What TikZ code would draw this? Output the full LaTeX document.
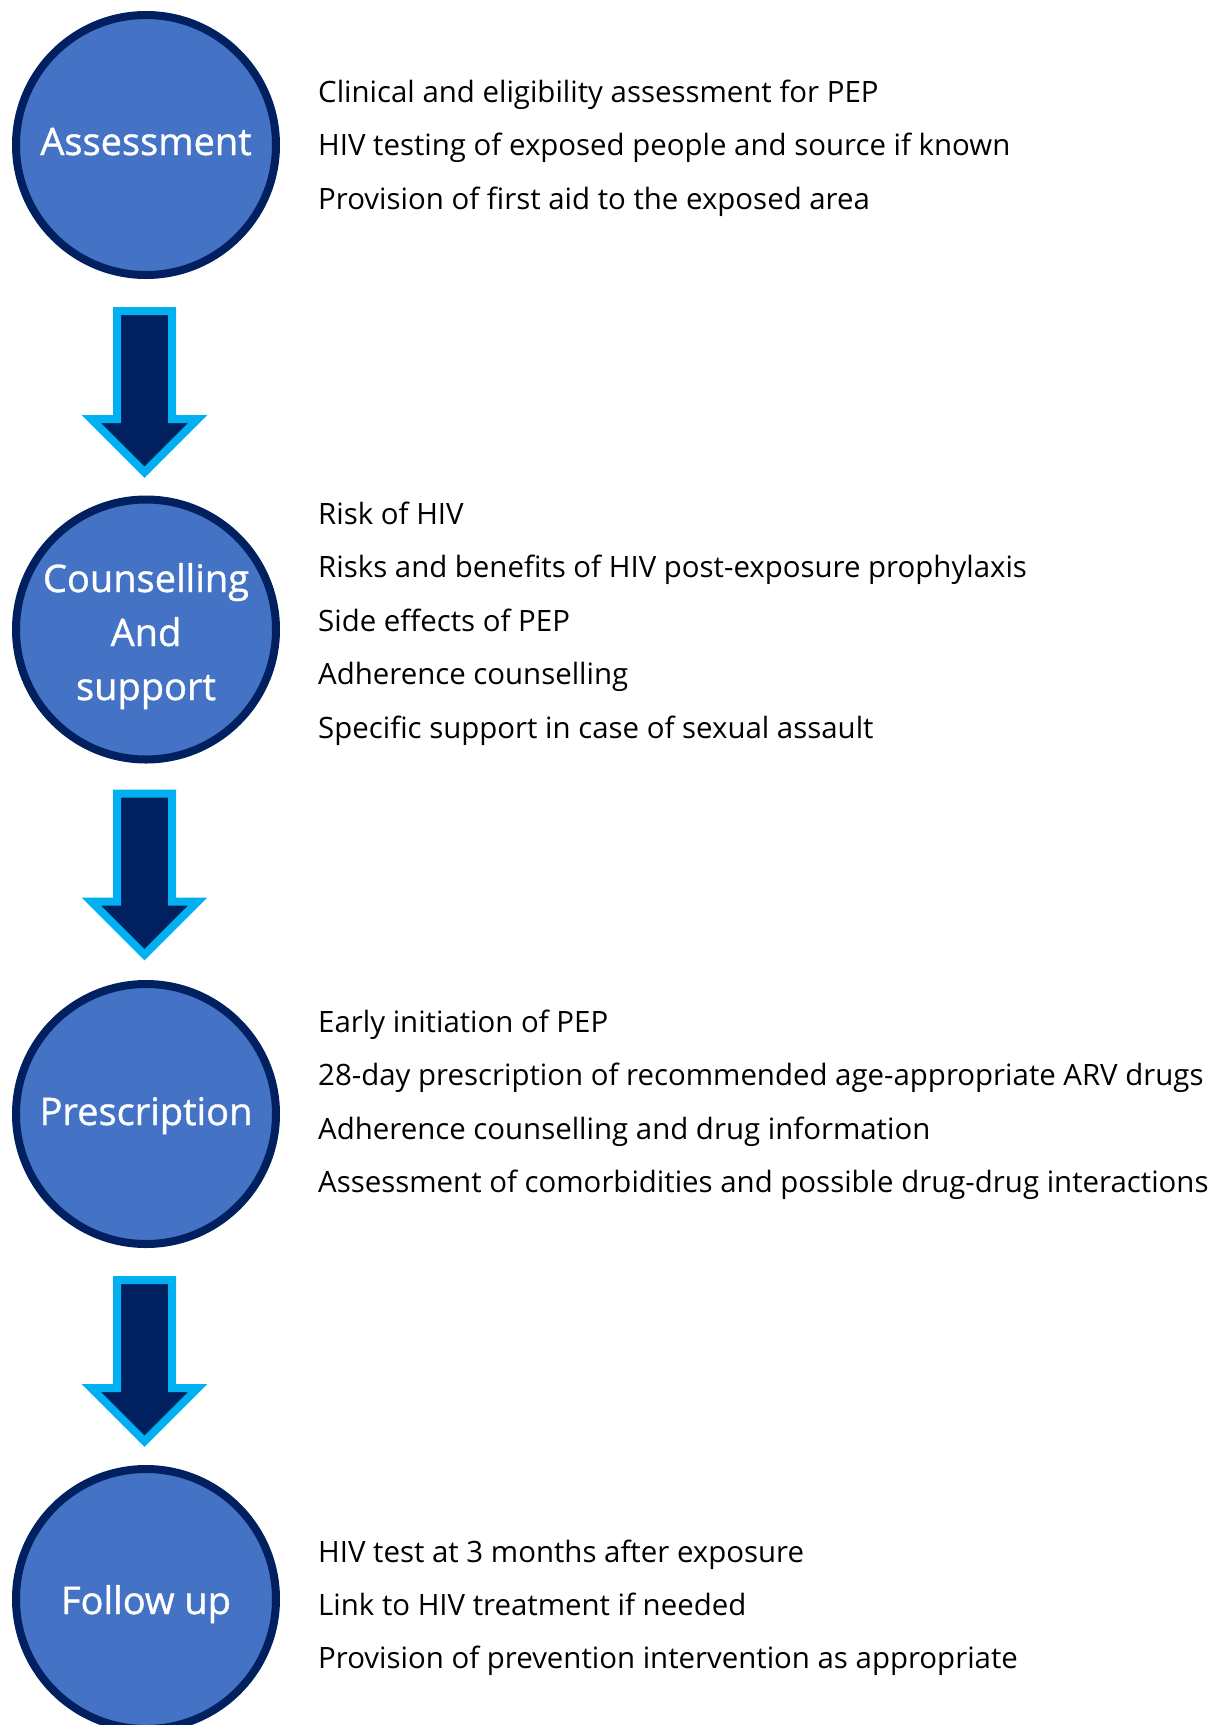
\documentclass[tikz,border=0pt]{standalone}
\usepackage{fontspec}
\setmainfont{Open Sans}
\newfontfamily\stagefont{Open Sans}[FakeBold=1]
\usetikzlibrary{positioning,calc}
\definecolor{stagecol}{HTML}{4472C4}
\definecolor{navycol}{HTML}{002060}
\definecolor{skycol}{HTML}{00B0F0}

\begin{document}
\begin{tikzpicture}[x=1pt,y=-1pt,
  stage/.style={circle,draw=navycol,fill=stagecol,line width=8pt,minimum size=260pt,
    inner sep=0pt,text=white,align=center,text height=30pt,
    font=\stagefont\fontsize{38}{54}\selectfont},
  downarrow/.pic={\draw[draw=skycol,fill=navycol,line width=8pt]
    (-27.5,0) -- (27.5,0) -- (27.5,108) -- (53.3,108) -- (0,161.3)
    -- (-53.3,108) -- (-27.5,108) -- cycle;},
  item/.style={anchor=base west,inner sep=0pt,font=\fontsize{29.4}{36}\selectfont}]
  \useasboundingbox (0,0) rectangle (1215,1725);
  % the four stages
  \node[stage,text depth=10pt] (assess) at (146,145) {Assessment};
  \node[stage,text height=141pt,text depth=0pt] (counsel) at (146,629.5) {Counselling\\And\\support};
  \node[stage,text depth=8pt] (prescr) at (146,1114) {Prescription};
  \node[stage,text depth=0pt] (follow) at (146,1599) {Follow up};
  % block arrows between them
  \pic (arr1) at ($(assess.center)+(-1.5,166)$) {downarrow};
  \pic (arr2) at ($(counsel.center)+(-1.5,164)$) {downarrow};
  \pic (arr3) at ($(prescr.center)+(-1.5,166)$) {downarrow};
  % what happens at each stage
  \foreach \txt [count=\i from 0] in {Clinical and eligibility assessment for PEP,
      HIV testing of exposed people and source if known,
      Provision of first aid to the exposed area}
    \node[item] (a\i) at (318,102+53.6*\i) {\txt};
  \foreach \txt [count=\i from 0] in {Risk of HIV,
      Risks and benefits of HIV post-exposure prophylaxis,
      Side effects of PEP,
      Adherence counselling,
      Specific support in case of sexual assault}
    \node[item] (c\i) at (318,524+53.6*\i) {\txt};
  \foreach \txt [count=\i from 0] in {Early initiation of PEP,
      28-day prescription of recommended age-appropriate ARV drugs,
      Adherence counselling and drug information,
      Assessment of comorbidities and possible drug-drug interactions}
    \node[item] (p\i) at (318,1032+53.6*\i) {\txt};
  \foreach \txt [count=\i from 0] in {HIV test at 3 months after exposure,
      Link to HIV treatment if needed,
      Provision of prevention intervention as appropriate}
    \node[item] (f\i) at (318,1562+53.3*\i) {\txt};
\end{tikzpicture}
\end{document}
